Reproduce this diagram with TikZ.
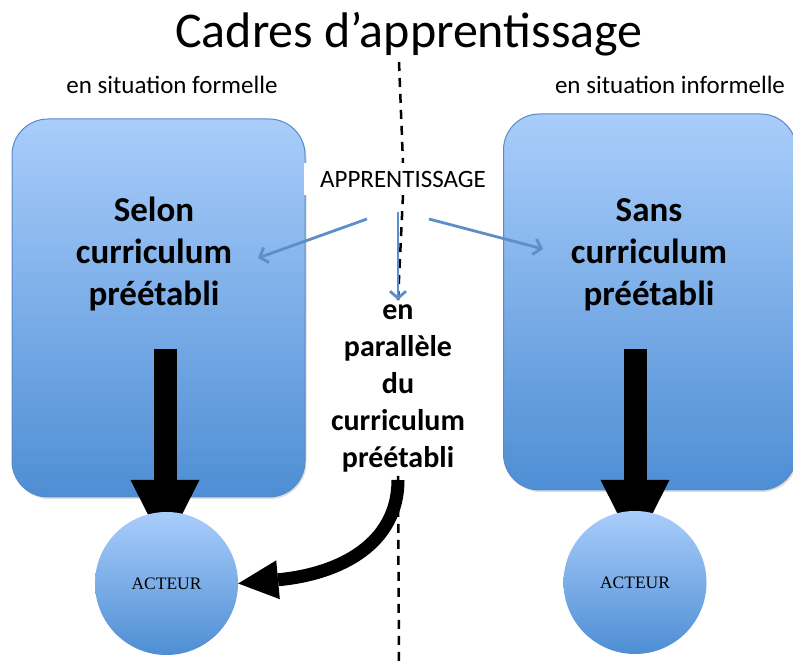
\documentclass[tikz,border=0pt]{standalone}
\usepackage{fontspec}
\setmainfont{Carlito}
\newfontfamily\serifact{Liberation Serif}
\usetikzlibrary{arrows.meta,shadows}
\definecolor{boxtop}{RGB}{169,205,251}
\definecolor{boxbot}{RGB}{78,142,212}
\definecolor{boxedge}{RGB}{88,138,198}
\definecolor{thinarrow}{RGB}{92,143,200}
\begin{document}
\begin{tikzpicture}[x=1pt,y=1pt,
  bigbox/.style={draw=boxedge, line width=1pt, rounded corners=36pt,
    top color=boxtop, bottom color=boxbot,
    drop shadow={shadow xshift=1.5pt, shadow yshift=-2pt, opacity=0.25}},
  boxtext/.style={font=\bfseries\fontsize{35}{42}\selectfont, align=center, inner sep=0pt},
  midtext/.style={font=\bfseries\fontsize{30}{37}\selectfont, align=center, fill=white, inner sep=4pt},
  smalltext/.style={font=\fontsize{25}{30}\selectfont},
  actor/.style={circle, minimum size=143pt, inner sep=0pt, top color=boxtop, bottom color=boxbot,
    font=\serifact\fontsize{17.5}{20}\selectfont},
  divider/.style={dash pattern=on 9pt off 7pt, line width=2.5pt},
  thin/.style={draw=thinarrow, line width=2.8pt, -{Straight Barb[length=7pt,width=16pt]}},
  bigarrow/.style={line width=23pt, -{Triangle[length=68pt,width=69pt,line width=0pt]}},
  curvearrow/.style={line width=13pt, -{Triangle[length=40pt,width=39pt,line width=0pt]}}
]
\useasboundingbox (0,0) rectangle (793,664);

% title and headings
\node[anchor=base, font=\fontsize{50}{60}\selectfont, inner sep=0pt] (title) at (409,616) {Cadres d’apprentissage};
\node[smalltext, anchor=base, inner sep=0pt] (formel) at (172,570) {en situation formelle};
\node[smalltext, anchor=base, inner sep=0pt] (informel) at (670,570) {en situation informelle};

% boxes
\node[bigbox, minimum width=293pt, minimum height=378pt] (lbox) at (158.5,356) {};
\node[bigbox, minimum width=293pt, minimum height=376pt] (rbox) at (650,362) {};
\node[boxtext] (ltext) at (154,410) {Selon\\curriculum\\préétabli};
\node[boxtext] (rtext) at (649,409) {Sans\\curriculum\\préétabli};

% central labels
\node[smalltext, fill=white, minimum width=198pt, minimum height=32pt, inner sep=0pt] (appr) at (403,485) {APPRENTISSAGE};
\node[midtext] (mid) at (398,276) {en\\parallèle\\du\\curriculum\\préétabli};

% divider
\coordinate (dtop) at (399,602);
\coordinate (dbot) at (399,0);
\draw[divider] (dtop) -- (appr.north);
\draw[divider] (appr.south) -- (mid.north);
\draw[divider] (mid.south) -- (dbot);

% thin blue arrows
\coordinate (a1s) at (367,445);
\coordinate (a1e) at (258,406);
\coordinate (a2s) at (398,452);
\coordinate (a3s) at (429,445);
\coordinate (a3e) at (543,415);
\draw[thin] (a1s) -- (a1e);
\draw[thin] (a2s) -- (mid.north);
\draw[thin] (a3s) -- (a3e);

% thick arrows into actors
\coordinate (lstart) at (165,315);
\coordinate (ltip) at (165,116);
\coordinate (rstart) at (635,315);
\coordinate (rtip) at (635,116);
\draw[bigarrow] (lstart) -- (ltip);
\draw[bigarrow] (rstart) -- (rtip);

% actors
\node[actor] (lact) at (166.5,80.5) {ACTEUR};
\node[actor] (ract) at (635,81.5) {ACTEUR};

% curved arrow
\coordinate (cstart) at (398,184);
\draw[curvearrow] (cstart) .. controls (398,120) and (340,90) .. (lact.east);
\end{tikzpicture}
\end{document}
